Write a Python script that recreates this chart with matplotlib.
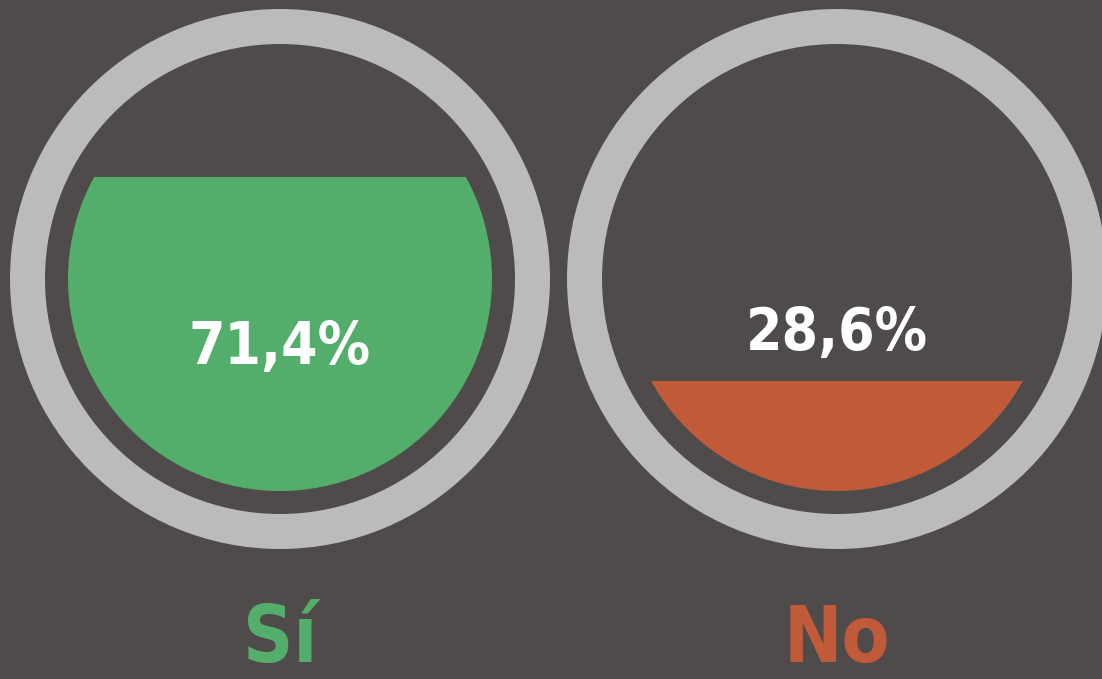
import matplotlib
matplotlib.use("Agg")
import matplotlib.pyplot as plt
from matplotlib.patches import Circle, Wedge, Rectangle
from matplotlib import font_manager as fm

categories = ["Sí", "No"]
values = [71.4, 28.6]
value_labels = ["71,4%", "28,6%"]
colors = ["#52ae6a", "#c05a38"]

BG = "#4f4b4a"
RING = "#bbbbbb"
W, H = 1102, 679
centers_x = [280, 837]
cy = 279
r_outer, r_inner, r_fill = 270, 235, 212
margin = 0.06
text_y = [347, 333]
label_bottom = 678

# pick a condensed font if one is installed
cond = None
for f in fm.fontManager.ttflist:
    if 'condensed' in f.fname.lower() and 'bold' in f.fname.lower() and 'oblique' not in f.fname.lower() and 'italic' not in f.fname.lower():
        cond = f.fname
        break

fig = plt.figure(figsize=(W / 100, H / 100), dpi=100, facecolor=BG)
ax = fig.add_axes([0, 0, 1, 1])
ax.set_xlim(0, W)
ax.set_ylim(H, 0)
ax.set_aspect('equal')
ax.axis('off')
ax.set_facecolor(BG)

def fp(size):
    if cond:
        return fm.FontProperties(fname=cond, size=size)
    return fm.FontProperties(family='DejaVu Sans', weight='bold', stretch='condensed', size=size)

for i, (cat, v, lab, col) in enumerate(zip(categories, values, value_labels, colors)):
    cx = centers_x[i]
    ring = Wedge((cx, cy), r_outer, 0, 360, width=r_outer - r_inner, facecolor=RING, edgecolor='none')
    ax.add_patch(ring)
    clip = Circle((cx, cy), r_fill, transform=ax.transData, facecolor='none', edgecolor='none')
    ax.add_patch(clip)
    level = -margin + v / 100 * (1 + 2 * margin)
    h = level * 2 * r_fill
    rect = Rectangle((cx - r_fill, cy + r_fill - h), 2 * r_fill, h, facecolor=col, edgecolor='none')
    ax.add_patch(rect)
    rect.set_clip_path(clip)
    ax.text(cx, text_y[i], lab, color='white', fontproperties=fp(42),
            ha='center', va='center')
    ax.text(cx, label_bottom, cat, color=col, fontproperties=fp(56),
            ha='center', va='bottom')

fig.savefig("out.png", dpi=100, facecolor=BG)
